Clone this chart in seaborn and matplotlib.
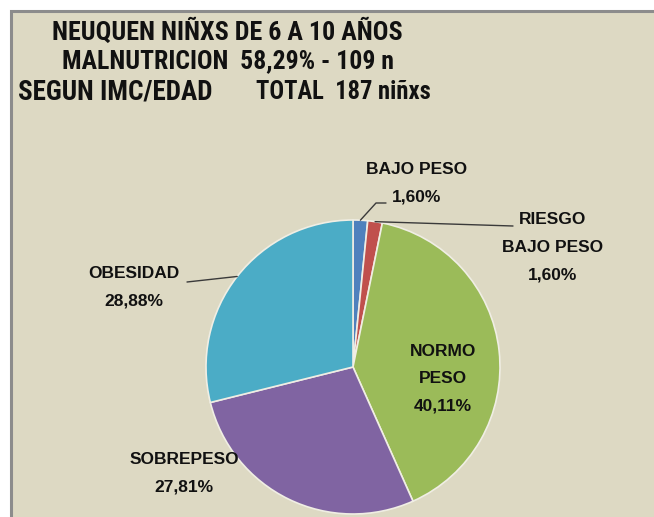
import numpy as np
import matplotlib
matplotlib.use("Agg")
import matplotlib.pyplot as plt
import seaborn as sns
from matplotlib import font_manager
from matplotlib.patches import Rectangle

# ---------------- data ----------------
categories = ["BAJO PESO", "RIESGO BAJO PESO", "NORMO PESO", "SOBREPESO", "OBESIDAD"]
label_lines = [["BAJO PESO"], ["RIESGO", "BAJO PESO"], ["NORMO", "PESO"], ["SOBREPESO"], ["OBESIDAD"]]
percentages = [1.60, 1.60, 40.11, 27.81, 28.88]
slice_colors = ["#4F81BD", "#C0504D", "#9BBB59", "#8064A2", "#4BACC6"]
title_line1 = "NEUQUEN NIÑXS DE 6 A 10 AÑOS"
title_line2 = "MALNUTRICION  58,29% - 109 n"
title_line3a = "SEGUN IMC/EDAD"
title_line3b = "TOTAL  187 niñxs"

# ---------------- style ----------------
sns.set_style("white")
names = {f.name for f in font_manager.fontManager.ttflist}
family = "Liberation Sans"
for cand in ["Liberation Sans Narrow", "DejaVu Sans Condensed", "Roboto Condensed", "Open Sans Condensed"]:
    if cand in names:
        family = cand
        break
label_family = "Liberation Sans"
plt.rcParams["font.family"] = [family, "DejaVu Sans"]

W, H = 654, 517
fig = plt.figure(figsize=(W / 100, H / 100), dpi=100)
fig.patch.set_facecolor("white")
ax = fig.add_axes([0, 0, 1, 1])

def Y(py):
    return H - py

# chart area background with border
ax.add_patch(Rectangle((10.5, -20), 700, Y(10.5) + 20, facecolor="#DDD9C3",
                       edgecolor="#8C8C8C", linewidth=2.2, zorder=0))

cx, cy, r = 353, Y(367), 147
wedges, _ = ax.pie(percentages, colors=slice_colors, startangle=90, counterclock=False,
                   center=(cx, cy), radius=r,
                   wedgeprops=dict(edgecolor="#F0EEE4", linewidth=1.2, zorder=2))
ax.set_xlim(0, W)
ax.set_ylim(0, H)
ax.set_aspect("equal")
ax.axis("off")

def fmt(v):
    return f"{v:.2f}%".replace(".", ",")

label_pos = [(417, 170), (553, 220), (443, 351), (184, 460), (134, 274)]
line_gap = 27.5
label_objs = []
for i, (lines, v) in enumerate(zip(label_lines, percentages)):
    x, y0 = label_pos[i]
    for j, t in enumerate(lines + [fmt(v)]):
        to = ax.text(x, Y(y0 + j * line_gap), t, ha="center", va="center",
                     fontsize=12, fontweight="bold", color="#111111", zorder=5,
                     family=[label_family, "DejaVu Sans"])
        label_objs.append(to)

def edge_point(w):
    mid = np.deg2rad((w.theta1 + w.theta2) / 2)
    return cx + r * np.cos(mid), cy + r * np.sin(mid)

lc = "#3A3A3A"
px, py = edge_point(wedges[0])
ax.plot([px, 376, 386], [py, Y(203), Y(203)], color=lc, lw=1, zorder=4)
px, py = edge_point(wedges[1])
ax.plot([px, 513], [py, Y(226)], color=lc, lw=1, zorder=4)
px, py = edge_point(wedges[4])
ax.plot([px, 187], [py, Y(282)], color=lc, lw=1, zorder=4)

# title lines, fitted to their widths in the reference
titles = [
    (title_line1, 52, 32, 350),
    (title_line2, 62, 61, 332),
    (title_line3a, 18, 92, 195),
    (title_line3b, 256, 92, 175),
]
tobjs = []
for t, x, y, wid in titles:
    to = ax.text(x, Y(y), t, ha="left", va="center", fontsize=18,
                 fontweight="bold", color="#111111", zorder=5)
    tobjs.append((to, wid))
fig.canvas.draw()
renderer = fig.canvas.get_renderer()
for to, wid in tobjs:
    w = to.get_window_extent(renderer).width
    to.set_fontsize(min(20, 18 * wid / w))
# scale the slice labels so that "BAJO PESO" is ~101 px wide, as in the reference
ref_w = label_objs[0].get_window_extent(renderer).width
scale = 101 / ref_w
for to in label_objs:
    to.set_fontsize(min(14, 12 * scale))

fig.savefig("out.png", dpi=100, facecolor=fig.get_facecolor())
